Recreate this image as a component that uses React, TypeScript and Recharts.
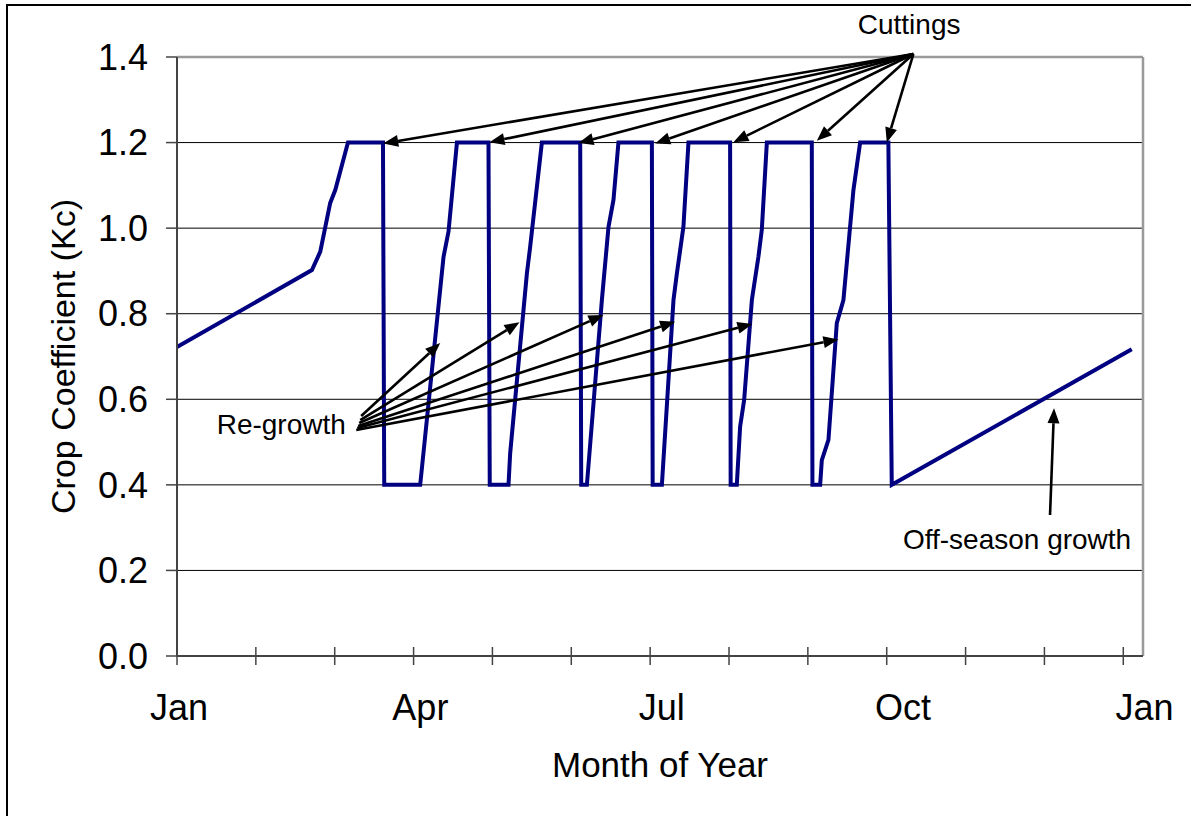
import {
  LineChart,
  Line,
  XAxis,
  YAxis,
  CartesianGrid,
  ReferenceLine,
  ReferenceDot,
} from 'recharts';

// x = months after Jan 1 (0 = Jan, 12 = next Jan)
const monthPos = [
  0, 1.711, 1.817, 1.943, 2.007, 2.168, 2.612, 2.628, 3.084, 3.38, 3.443, 3.55,
  3.95, 3.966, 4.204, 4.225, 4.437, 4.479, 4.627, 5.113, 5.126, 5.198, 5.388,
  5.472, 5.535, 5.598, 6.022, 6.032, 6.149, 6.296, 6.339, 6.422, 6.486, 7.014,
  7.021, 7.099, 7.141, 7.192, 7.29, 7.373, 7.416, 7.48, 8.05, 8.058, 8.156,
  8.177, 8.261, 8.367, 8.451, 8.578, 8.663, 9.021, 9.064, 12.107,
];
const kcValues = [
  0.722, 0.902, 0.945, 1.059, 1.089, 1.2, 1.2, 0.4, 0.4, 0.933, 0.992, 1.2,
  1.2, 0.4, 0.4, 0.474, 0.894, 0.957, 1.2, 1.2, 0.4, 0.4, 0.832,
  1.003, 1.066, 1.2, 1.2, 0.4, 0.4, 0.832, 0.894, 1.003, 1.2, 1.2,
  0.4, 0.4, 0.536, 0.598, 0.832, 0.933, 0.996, 1.2, 1.2, 0.4, 0.4,
  0.458, 0.505, 0.778, 0.832, 1.089, 1.2, 1.2, 0.4, 0.717,
];

const xTicks = [0, 1, 2, 3, 4, 5, 6, 7, 8, 9, 10, 11, 12];
const monthLabels = ['Jan', '', '', 'Apr', '', '', 'Jul', '', '', 'Oct', '', '', 'Jan'];
const yTicks = [0, 0.2, 0.4, 0.6, 0.8, 1.0, 1.2, 1.4];

// annotation arrows, as [month, Kc]
const cuttingsFrom = [9.338, 1.407];
const cuttingTips = [
  [2.615, 1.198], [3.963, 1.201], [5.091, 1.199], [6.064, 1.198],
  [7.056, 1.201], [8.114, 1.204], [9.001, 1.2],
];
const regrowthFrom = [
  [2.336, 0.561], [2.324, 0.5515], [2.311, 0.5445],
  [2.298, 0.5375], [2.286, 0.533], [2.273, 0.528],
];
const regrowthTips = [
  [3.338, 0.7315], [4.343, 0.78], [5.408, 0.797],
  [6.317, 0.781], [7.297, 0.776], [8.387, 0.74],
];
const offSeasonFrom = [11.071, 0.3295];
const offSeasonTip = [11.122, 0.579];

const noteTexts = ['Cuttings', 'Re-growth', 'Off-season growth'];
const notePos = [[9.284, 1.477], [1.322, 0.5415], [10.653, 0.274]];

const chartData = monthPos.map((m, i) => ({ m, kc: kcValues[i] }));

const arrows = [
  ...cuttingTips.map((t) => [cuttingsFrom, t]),
  ...regrowthTips.map((t, i) => [regrowthFrom[i], t]),
  [offSeasonFrom, offSeasonTip],
];

const axisGray = '#444';
const borderGray = '#9a9a9a';

function ArrowShape(props: any) {
  const { x1, y1, x2, y2 } = props;
  if ([x1, y1, x2, y2].some((v) => typeof v !== 'number' || isNaN(v))) return null;
  const a = Math.atan2(y2 - y1, x2 - x1);
  const len = 15;
  const half = 6;
  const bx = x2 - len * Math.cos(a);
  const by = y2 - len * Math.sin(a);
  const px = -Math.sin(a) * half;
  const py = Math.cos(a) * half;
  return (
    <g>
      <line x1={x1} y1={y1} x2={bx} y2={by} stroke="#000" strokeWidth={2.6} />
      <polygon
        points={`${x2},${y2} ${bx + px},${by + py} ${bx - px},${by - py}`}
        fill="#000"
      />
    </g>
  );
}

// month tick: mark crosses the axis, label only every quarter
function MonthTick(props: any) {
  const { x, y, payload } = props;
  const v = Math.round(payload.value);
  const label = monthLabels[v] || '';
  return (
    <g>
      <line x1={x} y1={y - 9} x2={x} y2={y + 9} stroke={axisGray} strokeWidth={1.5} />
      {label && (
        <text x={x + 2 + v * 1.6} y={y + 64} textAnchor="middle" fontSize={36} fill="#000">
          {label}
        </text>
      )}
    </g>
  );
}

export default function App() {
  return (
    <div
      style={{
        position: 'absolute',
        left: 0,
        top: 0,
        width: 1191,
        height: 816,
        background: '#fff',
        overflow: 'hidden',
        fontFamily: '"Liberation Sans", Arial, sans-serif',
      }}
    >
      <div
        style={{
          position: 'absolute',
          left: 6,
          top: 4,
          width: 1200,
          height: 830,
          borderLeft: '2px solid #000',
          borderTop: '2px solid #000',
        }}
      />
      <div style={{ position: 'absolute', left: 0, top: 0 }}>
        <LineChart
          width={1191}
          height={816}
          data={chartData}
          margin={{ top: 57, right: 48, bottom: 100, left: 57 }}
        >
          <CartesianGrid vertical={false} stroke="#000" strokeWidth={1} />
          <XAxis
            dataKey="m"
            type="number"
            domain={[0, 12.25]}
            ticks={xTicks}
            interval={0}
            height={60}
            tickSize={0}
            tickMargin={0}
            tickLine={false}
            tick={<MonthTick />}
            axisLine={{ stroke: axisGray, strokeWidth: 2 }}
            label={{ value: 'Month of Year', position: 'bottom', offset: 36, fontSize: 35, fill: '#000' }}
          />
          <YAxis
            type="number"
            domain={[0, 1.4]}
            ticks={yTicks}
            interval={0}
            width={120}
            tickSize={11}
            tickMargin={18}
            tickFormatter={(v: number) => v.toFixed(1)}
            tick={{ fill: '#000', fontSize: 36 }}
            tickLine={{ stroke: axisGray, strokeWidth: 1.5 }}
            axisLine={{ stroke: axisGray, strokeWidth: 2 }}
            label={{
              value: 'Crop Coefficient (Kc)',
              angle: -90,
              position: 'insideLeft',
              offset: 6,
              fill: '#000',
              style: { textAnchor: 'middle', fontSize: 34 },
            }}
          />
          <ReferenceLine y={1.4} stroke={borderGray} strokeWidth={2.5} ifOverflow="visible" />
          <ReferenceLine x={12.25} stroke={borderGray} strokeWidth={2.5} ifOverflow="visible" />
          <Line
            type="linear"
            dataKey="kc"
            stroke="#000080"
            strokeWidth={4}
            dot={false}
            activeDot={false}
            isAnimationActive={false}
          />
          {arrows.map(([from, to], i) => (
            <ReferenceLine
              key={`arrow-${i}`}
              segment={[
                { x: from[0], y: from[1] },
                { x: to[0], y: to[1] },
              ]}
              ifOverflow="visible"
              shape={ArrowShape}
            />
          ))}
          {noteTexts.map((t, i) => (
            <ReferenceDot
              key={t}
              x={notePos[i][0]}
              y={notePos[i][1]}
              r={0}
              fill="none"
              stroke="none"
              ifOverflow="visible"
              label={{ value: t, position: 'center', fontSize: 28, fill: '#000' }}
            />
          ))}
        </LineChart>
      </div>
    </div>
  );
}
